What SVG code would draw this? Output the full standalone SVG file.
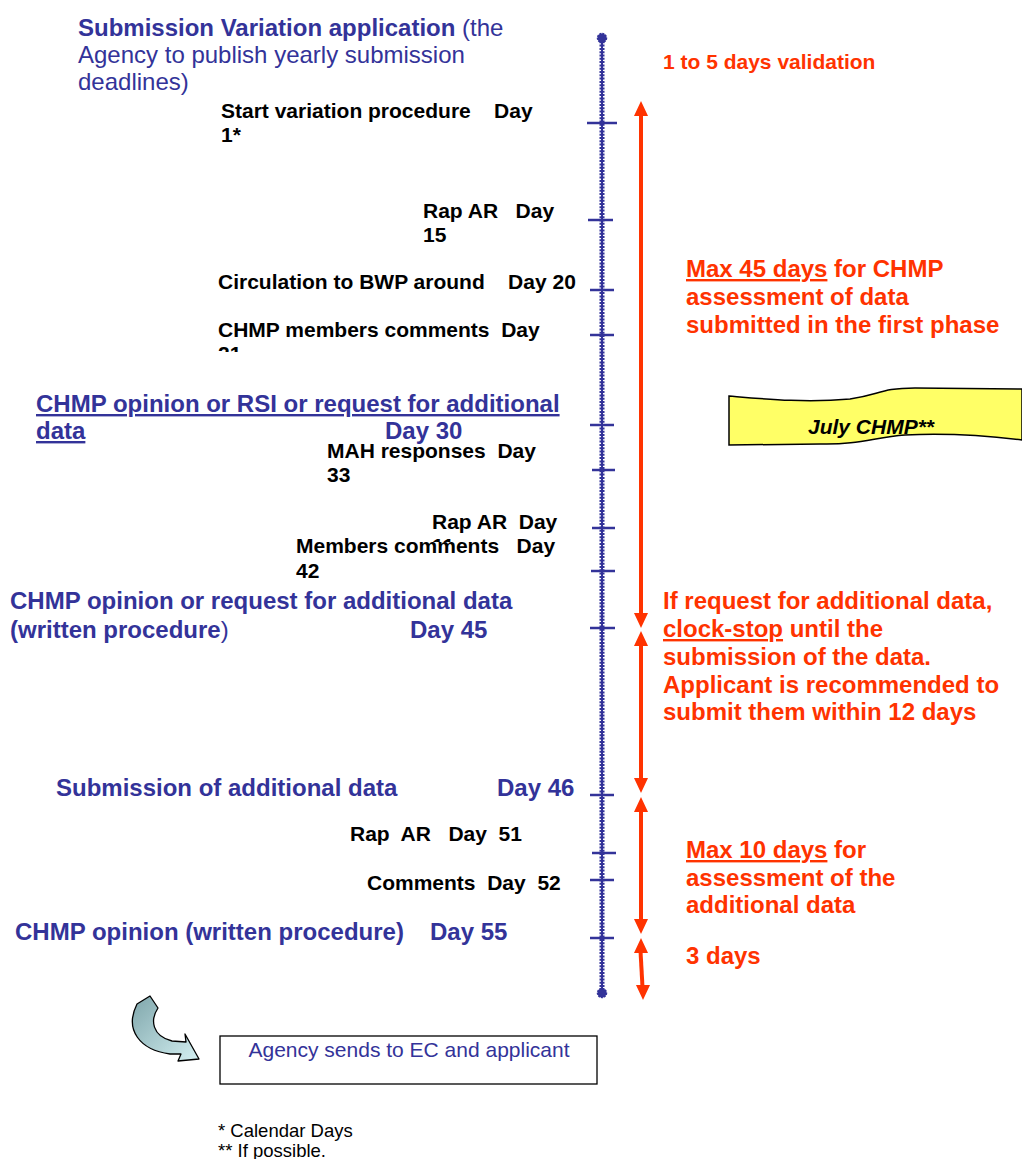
<svg xmlns="http://www.w3.org/2000/svg" width="1022" height="1159" viewBox="0 0 1022 1159">
<style>
.bk{font-family:"Liberation Sans",Arial,sans-serif;font-size:21px;font-weight:bold;fill:#000}
.bl{font-family:"Liberation Sans",Arial,sans-serif;font-size:24px;font-weight:bold;fill:#333399}
.bln{font-family:"Liberation Sans",Arial,sans-serif;font-size:24px;font-weight:normal;fill:#333399}
.rd{font-family:"Liberation Sans",Arial,sans-serif;font-size:24px;font-weight:bold;fill:#FF3300}
.rds{font-family:"Liberation Sans",Arial,sans-serif;font-size:21px;font-weight:bold;fill:#FF3300}
.tick{stroke:#333399;stroke-width:2.5}
.rl{stroke:#FF3300;stroke-width:4}
.rh{fill:#FF3300}
</style>
<defs>
<clipPath id="clip21"><rect x="200" y="300" width="400" height="52"/></clipPath>
<linearGradient id="ag" x1="0" y1="0" x2="1" y2="1">
<stop offset="0" stop-color="#7fa6ab"/>
<stop offset="1" stop-color="#d4f0f2"/>
</linearGradient>
</defs>

<g id="timeline">
<line x1="602" y1="38" x2="602" y2="993" stroke="#333399" stroke-width="2"/>
<line x1="602" y1="38" x2="602" y2="993" stroke="#333399" stroke-width="5" stroke-dasharray="2 1.3"/>
<circle cx="602" cy="38" r="4.5" fill="#333399" stroke="#333399" stroke-width="1.5" stroke-dasharray="2 1"/>
<circle cx="602" cy="993" r="4.5" fill="#333399" stroke="#333399" stroke-width="1.5" stroke-dasharray="2 1"/>
<line class="tick" x1="587" y1="123" x2="617" y2="123"/>
<line class="tick" x1="588" y1="220" x2="613" y2="220"/>
<line class="tick" x1="590" y1="290" x2="614" y2="290"/>
<line class="tick" x1="590" y1="335" x2="614" y2="335"/>
<line class="tick" x1="590" y1="425" x2="614" y2="425"/>
<line class="tick" x1="592" y1="470" x2="615" y2="470"/>
<line class="tick" x1="592" y1="528" x2="615" y2="528"/>
<line class="tick" x1="591" y1="571" x2="615" y2="571"/>
<line class="tick" x1="590" y1="628" x2="615" y2="628"/>
<line class="tick" x1="590" y1="795" x2="614" y2="795"/>
<line class="tick" x1="592" y1="853" x2="616" y2="853"/>
<line class="tick" x1="590" y1="880" x2="614" y2="880"/>
<line class="tick" x1="590" y1="938" x2="614" y2="938"/>
</g>

<g id="connectors">
<line class="rl" x1="641" y1="114" x2="641" y2="615"/>
<polygon class="rh" points="641,101 634,116 648,116"/>
<polygon class="rh" points="641,628 634,613 648,613"/>
<line class="rl" x1="641" y1="644" x2="641" y2="780"/>
<polygon class="rh" points="641,631 634,646 648,646"/>
<polygon class="rh" points="641,793 634,778 648,778"/>
<line class="rl" x1="641" y1="810" x2="641" y2="921"/>
<polygon class="rh" points="641,797 634,812 648,812"/>
<polygon class="rh" points="641,934 634,919 648,919"/>
<line class="rl" x1="640.5" y1="951" x2="642.5" y2="987"/>
<polygon class="rh" points="641,938 634,953 648,953"/>
<polygon class="rh" points="643,1000 636,985 650,985"/>
</g>

<g id="title">
<text x="78" y="36"><tspan class="bl">Submission Variation application</tspan><tspan class="bln"> (the</tspan></text>
<text class="bln" x="78" y="63">Agency to publish yearly submission</text>
<text class="bln" x="78" y="90">deadlines)</text>
</g>

<g id="validation"><text class="rds" x="663" y="69">1 to 5 days validation</text></g>

<g id="start">
<text class="bk" x="221" y="118" xml:space="preserve">Start variation procedure    Day</text>
<text class="bk" x="221" y="142">1*</text>
</g>

<g id="rapar15">
<text class="bk" x="423" y="218" xml:space="preserve">Rap AR   Day</text>
<text class="bk" x="423" y="242">15</text>
</g>

<g id="circulation"><text class="bk" x="218" y="289" xml:space="preserve">Circulation to BWP around    Day 20</text></g>

<g id="members21" clip-path="url(#clip21)">
<text class="bk" x="218" y="337" xml:space="preserve">CHMP members comments  Day</text>
<text class="bk" x="218" y="361">21</text>
</g>

<g id="max45">
<text class="rd" x="686" y="277"><tspan text-decoration="underline">Max 45 days</tspan> for CHMP</text>
<text class="rd" x="686" y="305">assessment of data</text>
<text class="rd" x="686" y="333">submitted in the first phase</text>
</g>

<g id="day30">
<text class="bl" x="36" y="412" text-decoration="underline">CHMP opinion or RSI or request for additional</text>
<text class="bl" x="36" y="439"><tspan text-decoration="underline">data</tspan></text>
<text class="bl" x="385" y="439">Day 30</text>
</g>

<g id="july">
<path d="M729,396 C765,399 805,403 850,399 C880,395 880,388 915,388 L1022,389 L1022,440 C990,436 950,433 905,435 C875,437 860,445 820,444 L729,445 Z" fill="#FFFF66" stroke="#000" stroke-width="1.5"/>
<text x="871" y="434" text-anchor="middle" font-family="Liberation Sans, Arial, sans-serif" font-size="21" font-weight="bold" font-style="italic" fill="#000">July CHMP**</text>
</g>

<g id="mah">
<text class="bk" x="327" y="458" xml:space="preserve">MAH responses  Day</text>
<text class="bk" x="327" y="482">33</text>
</g>

<g id="rapar11">
<text class="bk" x="432" y="529" xml:space="preserve">Rap AR  Day</text>
<text class="bk" x="432" y="553">11</text>
</g>

<g id="members42">
<rect x="290" y="542" width="275" height="42" fill="#fff"/>
<text class="bk" x="296" y="553" xml:space="preserve">Members comments   Day</text>
<text class="bk" x="296" y="578">42</text>
</g>

<g id="day45">
<text class="bl" x="10" y="609">CHMP opinion or request for additional data</text>
<text x="10" y="638"><tspan class="bl">(written procedure</tspan><tspan class="bln">)</tspan></text>
<text class="bl" x="410" y="638">Day 45</text>
</g>

<g id="clockstop">
<text class="rd" x="663" y="609">If request for additional data,</text>
<text class="rd" x="663" y="637"><tspan text-decoration="underline">clock-stop</tspan> until the</text>
<text class="rd" x="663" y="665">submission of the data.</text>
<text class="rd" x="663" y="693">Applicant is recommended to</text>
<text class="rd" x="663" y="720">submit them within 12 days</text>
</g>

<g id="day46">
<text class="bl" x="56" y="796">Submission of additional data</text>
<text class="bl" x="497" y="796">Day 46</text>
</g>

<g id="rapar51"><text class="bk" x="350" y="841" xml:space="preserve">Rap  AR   Day  51</text></g>
<g id="comments52"><text class="bk" x="367" y="890" xml:space="preserve">Comments  Day  52</text></g>

<g id="max10">
<text class="rd" x="686" y="858"><tspan text-decoration="underline">Max 10 days</tspan> for</text>
<text class="rd" x="686" y="886">assessment of the</text>
<text class="rd" x="686" y="913">additional data</text>
</g>

<g id="day55">
<text class="bl" x="15" y="940">CHMP opinion (written procedure)</text>
<text class="bl" x="430" y="940">Day 55</text>
</g>

<g id="threedays"><text class="rd" x="686" y="964">3 days</text></g>

<g id="curvedarrow">
<path d="M150,996 L158,1008 C150,1020 152,1036 172,1041 L186,1042 L185,1034 L199,1059 L178,1061 L181,1054 L170,1054 C140,1050 124,1030 137,1004 Z" fill="url(#ag)" stroke="#000" stroke-width="1.3" stroke-linejoin="round"/>
</g>

<g id="agency">
<rect x="220" y="1036" width="377" height="48" fill="#fff" stroke="#000" stroke-width="1.3"/>
<text x="409" y="1057" text-anchor="middle" font-family="Liberation Sans, Arial, sans-serif" font-size="21" fill="#333399">Agency sends to EC and applicant</text>
</g>

<g id="footnotes">
<text x="218" y="1137" font-family="Liberation Sans, Arial, sans-serif" font-size="18.5" fill="#000">* Calendar Days</text>
<text x="218" y="1157" font-family="Liberation Sans, Arial, sans-serif" font-size="18.5" fill="#000">** If possible.</text>
</g>
</svg>
